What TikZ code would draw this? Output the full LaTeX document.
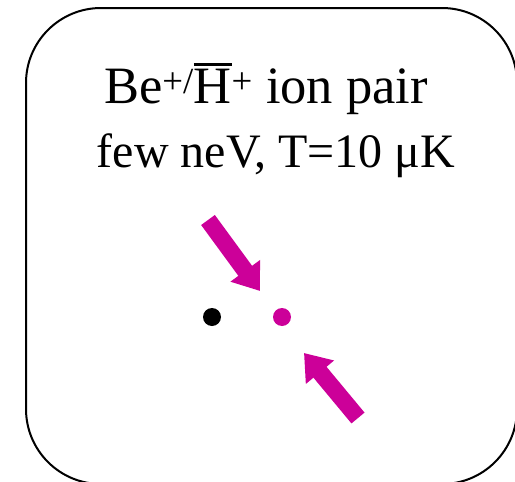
\documentclass[tikz,border=0pt]{standalone}
\usepackage{fontspec}
\setmainfont{Liberation Serif}
\usetikzlibrary{arrows.meta}
\definecolor{mag}{RGB}{204,0,153}
\newcommand\myobar[1]{\setbox0\hbox{#1}\rlap{\raisebox{\dimexpr\ht0+3pt\relax}{\rule{\wd0}{2.6pt}}}\box0}
\tikzset{
  frame/.style={draw=black, line width=2pt, rounded corners=75pt},
  label1/.style={anchor=base, inner sep=0pt, font=\fontsize{52.5}{52.5}\selectfont},
  label2/.style={anchor=base, inner sep=0pt, font=\fontsize{48}{48}\selectfont},
  ion/.style={circle, inner sep=0pt, minimum size=18pt},
  blockarrow/.style={draw=mag, line width=17pt, -{Triangle[length=25pt,width=35pt]}},
}
\begin{document}
\begin{tikzpicture}[x=1pt, y=-1pt]
\useasboundingbox (0,0) rectangle (515,482);
\draw[frame] (26,8) rectangle (517,484);
\node[label1] (title) at (266,103) {Be\textsuperscript{+/}\myobar{H}\textsuperscript{+} ion pair};
\node[label2] (cond) at (276,167) {few neV, T=10 μK};
\node[ion, fill=black] (be) at (212,317) {};
\node[ion, fill=mag] (hbar) at (282,317) {};
\coordinate (a1t) at (208,220);
\coordinate (a1h) at (260,291);
\coordinate (a2t) at (358,418);
\coordinate (a2h) at (304,353);
\draw[blockarrow] (a1t) -- (a1h);
\draw[blockarrow] (a2t) -- (a2h);
\end{tikzpicture}
\end{document}
